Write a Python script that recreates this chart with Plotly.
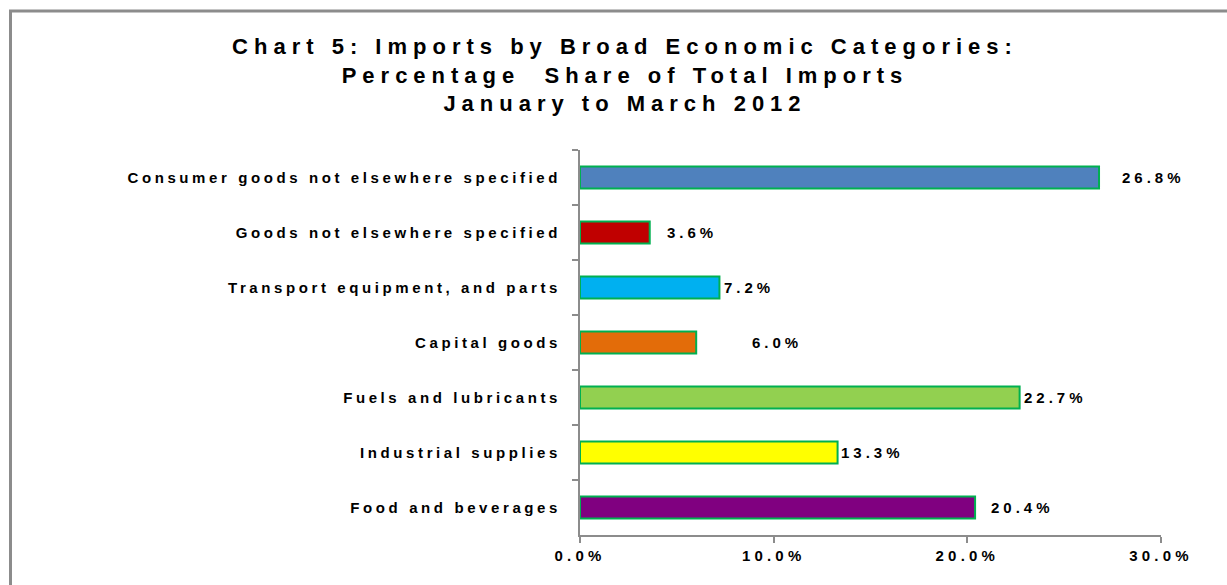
import plotly.graph_objects as go

# Import shares by broad economic category, Jan-Mar 2012 (listed top to bottom)
categories = [
    "Consumer goods not elsewhere specified",
    "Goods not elsewhere specified",
    "Transport equipment, and parts",
    "Capital goods",
    "Fuels and lubricants",
    "Industrial supplies",
    "Food and beverages",
]
shares = [26.8, 3.6, 7.2, 6.0, 22.7, 13.3, 20.4]
bar_colors = ["#4F81BD", "#C00000", "#00B0F0", "#E36C09", "#92D050", "#FFFF00", "#800080"]
tick_values = [0, 10, 20, 30]
tick_labels = [f"{v:.1f}%" for v in tick_values]

# Horizontal nudge (px) of each value label beyond its bar end
label_gap = [21, 15, 3, 54, 2, 1, 14]

FONT = "Liberation Sans, Arial, sans-serif"
W, H = 1227, 585
L, R, T, B = 580, 66, 150, 50
pw, ph = W - L - R, H - T - B

fig = go.Figure(
    go.Bar(
        x=shares,
        y=categories,
        orientation="h",
        marker=dict(color=bar_colors, line=dict(color="#00B050", width=2)),
        width=0.4,
        hoverinfo="skip",
    )
)

for cat, val, gap in zip(categories, shares, label_gap):
    fig.add_annotation(
        x=val, y=cat, xref="x", yref="y",
        text=f"{val:.1f}%", showarrow=False,
        xanchor="left", align="left", xshift=gap,
        font=dict(family=FONT, size=15, color="black", weight="bold"),
    )

# Chart frame
def px_to_x(p):
    return (p - L) / pw

def px_to_y(p):
    return (H - B - p) / ph

fig.add_shape(
    type="rect", xref="paper", yref="paper",
    x0=px_to_x(10.5), x1=px_to_x(1240), y0=px_to_y(11), y1=px_to_y(600),
    line=dict(color="#8C8C8C", width=3), fillcolor="rgba(0,0,0,0)", layer="below",
)

fig.update_layout(
    width=W, height=H,
    margin=dict(l=L, r=R, t=T, b=B),
    paper_bgcolor="white", plot_bgcolor="white",
    showlegend=False,
    title=dict(
        text="Chart 5: Imports by Broad Economic Categories:<br>"
             "Percentage  Share of Total Imports<br>January to March 2012",
        x=625 / W, xanchor="center", xref="container",
        y=1 - 54 / H, yanchor="top", yref="container",
        font=dict(family=FONT, size=22, color="black", weight="bold"),
    ),
    xaxis=dict(
        range=[0, 30], tickvals=tick_values, ticktext=tick_labels,
        showgrid=False, zeroline=False,
        showline=True, linecolor="#8C8C8C", linewidth=2,
        ticks="outside", ticklen=6, tickcolor="#8C8C8C", tickwidth=2,
        tickfont=dict(family=FONT, size=15, color="black", weight="bold"),
    ),
    yaxis=dict(
        autorange="reversed", showgrid=False, zeroline=False,
        showline=True, linecolor="#8C8C8C", linewidth=2,
        ticks="outside", ticklen=6, tickcolor="#8C8C8C", tickwidth=2,
        tickson="boundaries", ticklabelstandoff=14,
        tickfont=dict(family=FONT, size=15, color="black", weight="bold"),
    ),
)

# Spread letters the way the chart's text is set
post = """
var st = document.createElement('style');
st.textContent = '.gtitle { letter-spacing: 6px; } '
  + '.ytick text { letter-spacing: 3.6px; } '
  + '.xtick text { letter-spacing: 4.2px; } '
  + '.annotation-text { letter-spacing: 4px; }';
document.head.appendChild(st);
"""

fig.write_html("out.html", post_script=post)
